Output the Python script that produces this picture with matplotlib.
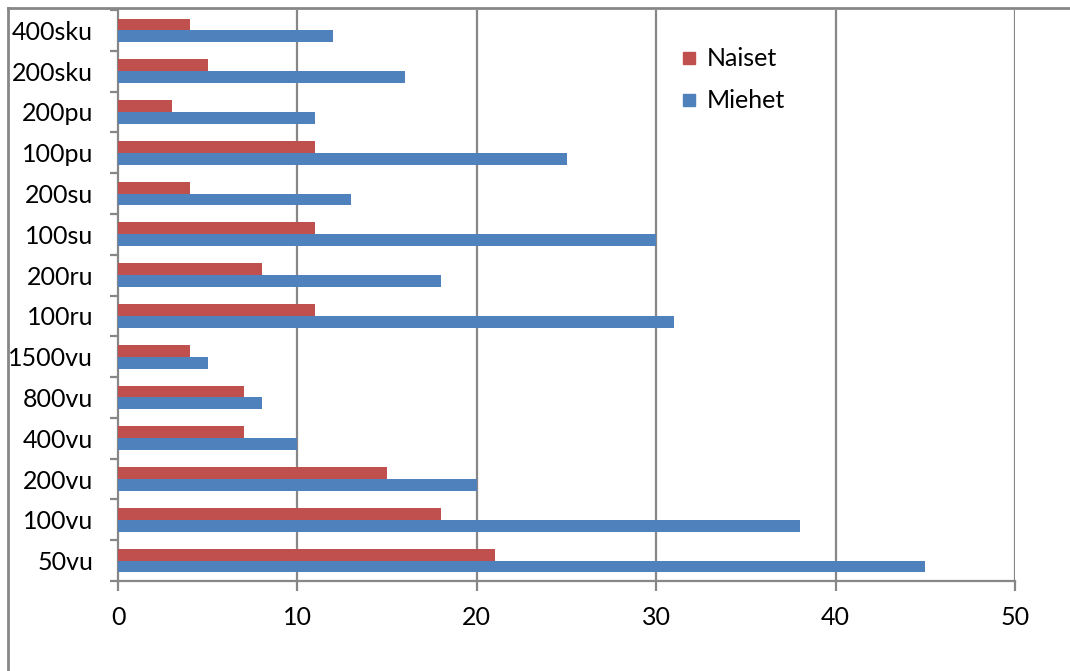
import numpy as np
import matplotlib.pyplot as plt
from matplotlib.lines import Line2D

# lajit alhaalta ylös
lajit = ["50vu", "100vu", "200vu", "400vu", "800vu", "1500vu", "100ru",
         "200ru", "100su", "200su", "100pu", "200pu", "200sku", "400sku"]
naiset = [21, 18, 15, 7, 7, 4, 11, 8, 11, 4, 11, 3, 5, 4]
miehet = [45, 38, 20, 10, 8, 5, 31, 18, 30, 13, 25, 11, 16, 12]

punainen = "#C0504D"
sininen = "#4F81BD"
harmaa = "#878787"

plt.rcParams['font.family'] = ['Lato', 'DejaVu Sans']

fig = plt.figure(figsize=(10.70, 6.71), dpi=100)
ax = fig.add_axes([118 / 1070, 1 - 581 / 671, 897 / 1070, 571 / 671])

y = np.arange(len(lajit))
h = 0.29
ax.barh(y + h / 2, naiset, height=h, color=punainen, zorder=3)
ax.barh(y - h / 2, miehet, height=h, color=sininen, zorder=3)

ax.set_xlim(0, 50)
ax.set_ylim(-0.5, len(lajit) - 0.5)
ax.set_xticks(range(0, 51, 10))
ax.set_yticks(y)
ax.set_yticklabels(lajit)
ax.set_yticks(np.arange(-0.5, len(lajit)), minor=True)

# pystysuorat apuviivat
for v in range(10, 51, 10):
    ax.axvline(v, color=harmaa, lw=1.6, zorder=1)

for s in ["top", "right"]:
    ax.spines[s].set_visible(False)
for s in ["left", "bottom"]:
    ax.spines[s].set_color(harmaa)
    ax.spines[s].set_linewidth(1.6)

ax.tick_params(axis="x", direction="out", length=7, width=1.6, color=harmaa,
               labelsize=18, pad=11)
ax.tick_params(axis="y", which="major", length=0, labelsize=18, pad=18)
ax.tick_params(axis="y", which="minor", direction="out", length=6,
               width=1.6, color=harmaa)

kahvat = [Line2D([], [], ls="none", marker="s", markersize=8.5, color=punainen),
          Line2D([], [], ls="none", marker="s", markersize=8.5, color=sininen)]
fig.legend(kahvat, ["Naiset", "Miehet"], loc="upper left",
           bbox_to_anchor=(658 / 1070, 1 - 25 / 671), frameon=False,
           fontsize=18, handlelength=0.7, handletextpad=0.35, labelspacing=0.75)

# kehys kuvan ympärillä
fig.add_artist(Line2D([8 / 1070, 1], [1 - 8 / 671, 1 - 8 / 671],
                      color=harmaa, lw=2, transform=fig.transFigure))
fig.add_artist(Line2D([8 / 1070, 8 / 1070], [0, 1 - 8 / 671],
                      color=harmaa, lw=2, transform=fig.transFigure))

fig.savefig("out.png", dpi=100)
